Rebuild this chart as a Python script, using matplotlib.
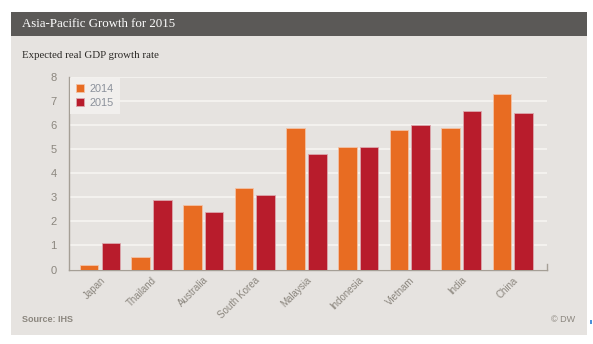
import matplotlib.pyplot as plt
import numpy as np
from matplotlib.patches import Rectangle
from matplotlib.lines import Line2D

countries = ['Japan', 'Thailand', 'Australia', 'South Korea', 'Malaysia',
             'Indonesia', 'Vietnam', 'India', 'China']
growth_2014 = [0.2, 0.5, 2.7, 3.4, 5.9, 5.1, 5.8, 5.9, 7.3]
growth_2015 = [1.1, 2.9, 2.4, 3.1, 4.8, 5.1, 6.0, 6.6, 6.5]
y_ticks = [0, 1, 2, 3, 4, 5, 6, 7, 8]

W, H = 593, 344
panel_bg = '#e6e3e0'
header_bg = '#5b5957'
orange = '#e86c22'
red = '#b81c2c'
tick_color = '#8b867e'
axis_color = '#a59f96'

fig = plt.figure(figsize=(W / 100, H / 100), dpi=100)
fig.patch.set_facecolor('white')

def px(x, y, w, h):
    # pixel box (top-left origin) -> figure fraction
    return (x / W, 1 - (y + h) / H, w / W, h / H)

# background panel and title bar
for box, col in [((11, 12, 576, 323), panel_bg),
                 ((11, 12, 576, 24), header_bg),
                 ((590, 320, 2, 4), '#4a90d9')]:
    bx, by, bw_, bh = px(*box)
    fig.patches.append(Rectangle((bx, by), bw_, bh, transform=fig.transFigure,
                                 facecolor=col, edgecolor='none', zorder=-5))

fig.text(22 / W, 1 - 24 / H, 'Asia-Pacific Growth for 2015', color='white',
         fontsize=9.3, family='Liberation Serif', va='center', ha='left')
fig.text(22 / W, 1 - 55 / H, 'Expected real GDP growth rate', color='#2b2926',
         fontsize=7.8, family='Liberation Serif', va='center', ha='left')
fig.text(22 / W, 1 - 320 / H, 'Source: IHS', color='#8b867e', fontsize=6.5,
         family='Liberation Sans', fontweight='bold', va='center', ha='left')
fig.text(575 / W, 1 - 320 / H, '© DW', color='#8b867e', fontsize=6.5,
         family='Liberation Sans', va='center', ha='right')

ax = fig.add_axes(px(69, 77, 478, 192.5))
ax.set_facecolor(panel_bg)

x = np.arange(len(countries))
bw = 0.36
ax.bar(x - bw / 2 - 0.03, growth_2014, bw, color=orange, edgecolor='#f2c2a6',
       linewidth=0.6, label='2014', zorder=3)
ax.bar(x + bw / 2 + 0.03, growth_2015, bw, color=red, edgecolor='#dca7ad',
       linewidth=0.6, label='2015', zorder=3)

ax.set_xlim(-0.6, 8.66)
ax.set_ylim(0, 8)
ax.set_yticks(y_ticks)
ax.set_yticklabels([str(v) for v in y_ticks])
ax.yaxis.grid(True, color='#f6f4f2', linewidth=1.2, zorder=1)
ax.set_axisbelow(True)

ax.set_xticks(x)
ax.set_xticklabels(countries, rotation=45, ha='right', rotation_mode='anchor',
                   family='Liberation Sans', fontsize=7, color=tick_color)
for lbl in ax.get_yticklabels():
    lbl.set_family('Liberation Sans')
    lbl.set_fontsize(8)
    lbl.set_color(tick_color)
ax.tick_params(axis='both', length=0, pad=9)
ax.tick_params(axis='x', pad=4)

for side in ['top', 'right']:
    ax.spines[side].set_visible(False)
for side in ['left', 'bottom']:
    ax.spines[side].set_color(axis_color)
    ax.spines[side].set_linewidth(1.0)
# small end tick on the right of the baseline
ax.add_line(Line2D([1, 1], [0, 0.03], transform=ax.transAxes, color=axis_color,
                   linewidth=1.0, clip_on=False))

leg = ax.legend(loc='upper left', bbox_to_anchor=(0.0, 1.0), frameon=True,
                prop={'family': 'Liberation Sans', 'size': 7.8},
                handlelength=0.75, handleheight=0.75, handletextpad=0.5,
                borderpad=0.55, labelspacing=0.35, borderaxespad=0.1,
                fancybox=False)
leg.get_frame().set_facecolor('#f3f1ef')
leg.get_frame().set_edgecolor('none')
leg.get_frame().set_alpha(0.9)
for t in leg.get_texts():
    t.set_color('#8a909a')

fig.savefig('out.png', dpi=100, facecolor='white')
